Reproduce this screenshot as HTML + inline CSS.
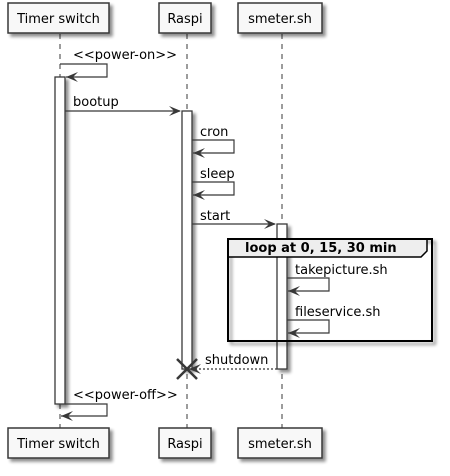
<!DOCTYPE html>
<html><head><style>html,body{margin:0;padding:0;background:#fff}svg{display:block}</style></head>
<body>
<svg width="450" height="476" viewBox="0 0 450 476" xmlns="http://www.w3.org/2000/svg" font-family="DejaVu Sans, Liberation Sans, sans-serif" font-size="13">
<defs>
<filter id="sh" x="-20%" y="-20%" width="140%" height="140%"><feGaussianBlur in="SourceAlpha" stdDeviation="1.5"/><feOffset dx="3" dy="3"/><feComponentTransfer><feFuncA type="linear" slope="0.45"/></feComponentTransfer><feMerge><feMergeNode/><feMergeNode in="SourceGraphic"/></feMerge></filter>
</defs>
<g stroke="#383838" stroke-width="1" stroke-dasharray="5,5">
<line x1="60" y1="34" x2="60" y2="428"/>
<line x1="187" y1="34" x2="187" y2="428"/>
<line x1="282" y1="34" x2="282" y2="428"/>
</g>
<g fill="#F8F8F8" stroke="#383838" stroke-width="1.5" filter="url(#sh)">
<rect x="8" y="3" width="101" height="30"/>
<rect x="159" y="3" width="52" height="30"/>
<rect x="238" y="3" width="84" height="30"/>
<rect x="8" y="428" width="101" height="30"/>
<rect x="159" y="428" width="52" height="30"/>
<rect x="238" y="428" width="84" height="30"/>
</g>
<g fill="#000">
<text x="58.5" y="23" text-anchor="middle">Timer switch</text>
<text x="185" y="23" text-anchor="middle">Raspi</text>
<text x="280" y="23" text-anchor="middle">smeter.sh</text>
<text x="58.5" y="448" text-anchor="middle">Timer switch</text>
<text x="185" y="448" text-anchor="middle">Raspi</text>
<text x="280" y="448" text-anchor="middle">smeter.sh</text>
</g>
<g fill="#fff" stroke="#383838" stroke-width="1.3" filter="url(#sh)">
<rect x="55" y="77" width="10" height="327"/>
<rect x="182" y="111" width="10" height="258"/>
<rect x="277" y="224" width="10" height="145"/>
</g>
<g fill="none" stroke="#000" stroke-width="2" filter="url(#sh)">
<path d="M228,239 H432 V341 H228 Z"/>
</g>
<path d="M228,239 H427 V251 L421,257 H228 Z" fill="#EEEEEE" stroke="#000" stroke-width="1.5"/>
<path d="M228,239 H432 V341 H228 Z" fill="none" stroke="#000" stroke-width="2"/>
<text x="245" y="252" font-weight="bold" fill="#000">loop at 0, 15, 30 min</text>
<g stroke="#383838" stroke-width="1.2" fill="none">
<polyline points="60,64 107,64 107,77 66,77"/>
<line x1="65" y1="111" x2="180" y2="111"/>
<polyline points="192,140 234,140 234,153 193,153"/>
<polyline points="192,182 234,182 234,195 193,195"/>
<line x1="192" y1="224" x2="275" y2="224"/>
<polyline points="287,278 329,278 329,291 288,291"/>
<polyline points="287,320 329,320 329,333 288,333"/>
<line x1="277" y1="369" x2="192" y2="369" stroke-dasharray="2,2"/>
<polyline points="65,404 107,404 107,416 61,416"/>
</g>
<g fill="#383838">
<path d="M66,77 l12,-5 l-5,5 l5,5 z"/>
<path d="M181,111 l-12,-5 l5,5 l-5,5 z"/>
<path d="M193,153 l12,-5 l-5,5 l5,5 z"/>
<path d="M193,195 l12,-5 l-5,5 l5,5 z"/>
<path d="M276,224 l-12,-5 l5,5 l-5,5 z"/>
<path d="M288,291 l12,-5 l-5,5 l5,5 z"/>
<path d="M288,333 l12,-5 l-5,5 l5,5 z"/>
<path d="M189,369 l12,-5 l-5,5 l5,5 z"/>
<path d="M61,416 l12,-5 l-5,5 l5,5 z"/>
</g>
<g stroke="#383838" stroke-width="2.5">
<line x1="177" y1="359" x2="197" y2="379"/>
<line x1="177" y1="379" x2="197" y2="359"/>
</g>
<g fill="#000">
<text x="73" y="59">&lt;&lt;power-on&gt;&gt;</text>
<text x="73" y="106">bootup</text>
<text x="200" y="136">cron</text>
<text x="200" y="178">sleep</text>
<text x="200" y="220">start</text>
<text x="295" y="274">takepicture.sh</text>
<text x="295" y="316">fileservice.sh</text>
<text x="205" y="364">shutdown</text>
<text x="73" y="399">&lt;&lt;power-off&gt;&gt;</text>
</g>
</svg>
</body></html>
